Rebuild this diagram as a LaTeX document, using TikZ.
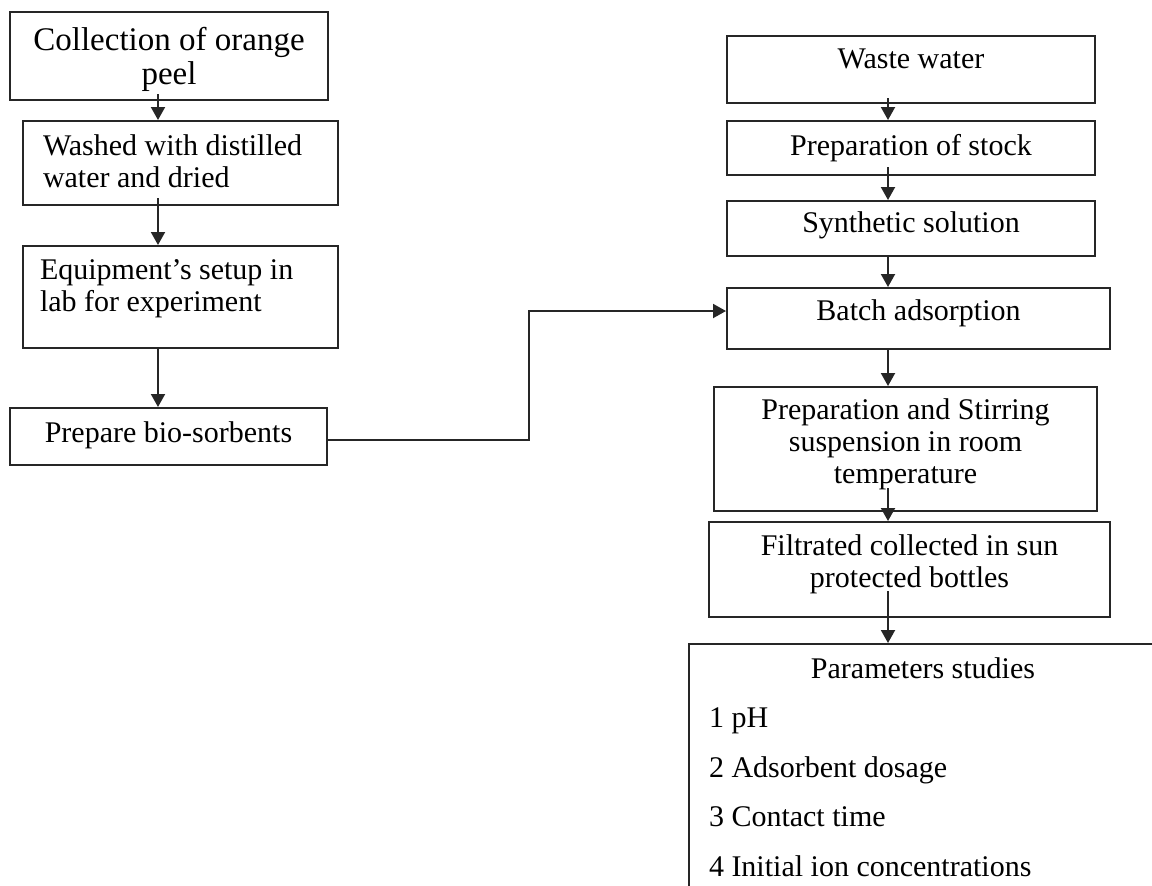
\documentclass[tikz,border=0pt]{standalone}
\usepackage{fontspec}
\setmainfont{Liberation Serif}
\usetikzlibrary{arrows.meta,positioning,calc}
\tikzset{
  box/.style={rectangle, draw=black!85, line width=1pt, inner sep=0pt, align=center,
    font=\fontsize{15}{16}\selectfont, text height=11pt},
  lbox/.style={box, align=flush left, inner xsep=#1, text width=157.5pt-2*#1},
  arr/.style={-{Triangle[length=6.5pt,width=7pt]}, line width=1pt, draw=black!85},
}

\begin{document}
\begin{tikzpicture}[x=0.5pt, y=-0.5pt]
  \useasboundingbox (0,0) rectangle (1152,885);
  \coordinate (lx) at (158,0);
  \coordinate (rx) at (888,0);

  % left column: making the sorbent
  \node[box, minimum width=159pt, minimum height=44pt, font=\fontsize{16.5}{17}\selectfont,
    text height=29pt, text depth=0.8pt] (peel) at (169,56) {Collection of orange\\peel};
  \node[lbox=10pt, minimum height=42pt, text depth=18.5pt] (wash) at (180.5,163)
    {Washed with distilled\\water and dried};
  \node[lbox=8.5pt, minimum height=51pt, text depth=28.5pt] (setup) at (180.5,297)
    {Equipment's setup in\\lab for experiment};
  \node[box, minimum width=158.5pt, minimum height=28.5pt, text depth=5pt] (bio) at (168.5,436.5)
    {Prepare bio-sorbents};

  % right column: the adsorption tests
  \node[box, minimum width=184pt, minimum height=33.5pt, text depth=12pt] (waste) at (911,69.5)
    {Waste water};
  \node[box, minimum width=184pt, minimum height=27pt, text depth=3.5pt] (stock) at (911,148)
    {Preparation of stock};
  \node[box, minimum width=184pt, minimum height=27.5pt, text depth=7pt] (synth) at (911,228.5)
    {Synthetic solution};
  \node[box, minimum width=191.5pt, minimum height=30.5pt, text depth=9pt] (batch) at (918.5,318.5)
    {Batch adsorption};
  \node[box, minimum width=191.5pt, minimum height=62pt, text height=43pt, text depth=8.2pt] (stir)
    at (905.5,449) {Preparation and Stirring\\suspension in room\\temperature};
  \node[box, minimum width=200.5pt, minimum height=47.5pt, text height=27pt, text depth=9pt] (filt)
    at (909.5,569.5) {Filtrated collected in sun\\protected bottles};
  \node[box, anchor=north west, align=flush left, inner xsep=10pt, inner ysep=6pt, text width=214pt,
    font=\fontsize{15}{24.75}\selectfont, text depth=110pt] (param) at (688,643)
    {\hfill Parameters studies\hfill\null\\
     1 pH\\
     2 Adsorbent dosage\\
     3 Contact time\\
     4 Initial ion concentrations};

  \draw[arr] ([yshift=3.5pt]peel.south -| lx) -- (wash.north -| lx);
  \draw[arr] ([yshift=4pt]wash.south -| lx) -- (setup.north -| lx);
  \draw[arr] (setup.south -| lx) -- (bio.north -| lx);
  \draw[arr] ([yshift=-1.75pt]bio.east) -- ++(201,0) |- ([yshift=3.75pt]batch.west);

  \draw[arr] ([yshift=3pt]waste.south -| rx) -- (stock.north -| rx);
  \draw[arr] ([yshift=4.5pt]stock.south -| rx) -- (synth.north -| rx);
  \draw[arr] (synth.south -| rx) -- (batch.north -| rx);
  \draw[arr] (batch.south -| rx) -- (stir.north -| rx);
  \draw[arr] ([yshift=12pt]stir.south -| rx) -- (filt.north -| rx);
  \draw[arr] ([yshift=13.5pt]filt.south -| rx) -- (param.north -| rx);
\end{tikzpicture}
\end{document}
